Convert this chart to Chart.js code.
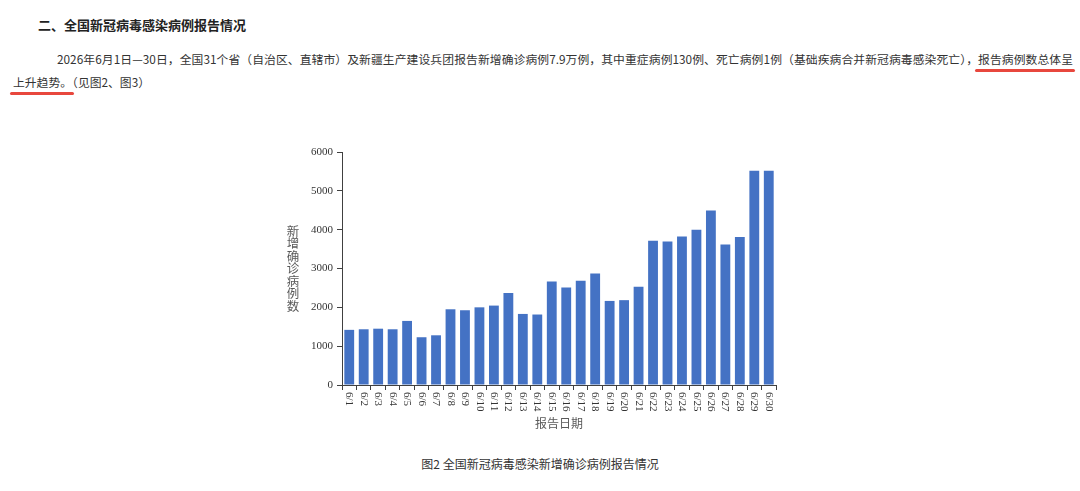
<!DOCTYPE html>
<html>
<head>
<meta charset="utf-8">
<script src="https://cdn.jsdelivr.net/npm/chart.js@4"></script>
<style>
  body { margin: 0; width: 1080px; height: 491px; background: #fff; position: relative; overflow: hidden;
         font-family: "Noto Sans CJK SC", "Noto Sans", sans-serif; color: #333; }
  .head { position: absolute; left: 38px; top: 15px; font-size: 13px; font-weight: bold; color: #222; }
  .line1 { position: absolute; left: 57px; top: 50px; width: 1016px; font-size: 11.8px; white-space: nowrap;
           text-align: justify; text-align-last: justify; }
  .line2 { position: absolute; left: 13px; top: 73px; font-size: 11.8px; white-space: nowrap; }
  .mark { position: relative; }
  .mark::after { content: ""; position: absolute; left: -3px; right: -2px; bottom: -5px; height: 3px;
                 border-radius: 2px; background: #e8473d; }
  #wrap { position: absolute; left: 270px; top: 140px; width: 530px; height: 300px; }
  .caption { position: absolute; left: 0; width: 1080px; top: 455px; text-align: center; font-size: 12px; color: #333; }
</style>
</head>
<body>
<div class="head">二、全国新冠病毒感染病例报告情况</div>
<div class="line1">2026年6月1日—30日，全国31个省（自治区、直辖市）及新疆生产建设兵团报告新增确诊病例7.9万例，其中重症病例130例、死亡病例1例（基础疾病合并新冠病毒感染死亡），<span class="mark">报告病例数总体呈</span></div>
<div class="line2"><span class="mark">上升趋势。</span>（见图2、图3）</div>
<div id="wrap"><canvas id="casesChart"></canvas></div>
<div class="caption">图2 全国新冠病毒感染新增确诊病例报告情况</div>

<script>
const dates = ['6/1', '6/2', '6/3', '6/4', '6/5', '6/6', '6/7', '6/8', '6/9', '6/10',
               '6/11', '6/12', '6/13', '6/14', '6/15', '6/16', '6/17', '6/18', '6/19', '6/20',
               '6/21', '6/22', '6/23', '6/24', '6/25', '6/26', '6/27', '6/28', '6/29', '6/30'];
const newCases = [1420, 1435, 1450, 1435, 1650, 1230, 1280, 1950, 1925, 2000,
                  2045, 2370, 1830, 1815, 2665, 2510, 2685, 2870, 2165, 2185,
                  2530, 3715, 3695, 3825, 4000, 4495, 3620, 3810, 5520, 5520];
const yTitle = '新增确诊病例数';
const xTitle = '报告日期';

// x labels read top-to-bottom, y title is stacked characters
const labelPlugin = {
    id: 'labelPlugin',
    afterDraw(chart) {
        const ctx = chart.ctx;
        const xs = chart.scales.x;
        const area = chart.chartArea;
        ctx.save();
        ctx.fillStyle = '#333';
        ctx.font = '11px "Liberation Serif", serif';
        ctx.textAlign = 'left';
        ctx.textBaseline = 'middle';
        dates.forEach((d, i) => {
            ctx.save();
            ctx.translate(xs.getPixelForTick(i), xs.top + 7);
            ctx.rotate(Math.PI / 2);
            ctx.fillText(d, 0, 0);
            ctx.restore();
        });
        ctx.fillStyle = '#595959';
        ctx.font = '12.5px "Noto Sans CJK SC", sans-serif';
        ctx.textAlign = 'center';
        const step = 12.5;
        const mid = (area.top + area.bottom) / 2;
        const start = mid - step * (yTitle.length - 1) / 2;
        for (let i = 0; i < yTitle.length; i++) {
            ctx.fillText(yTitle[i], 23, start + i * step);
        }
        ctx.restore();
    }
};

function renderChart() {
    const ctx = document.querySelector('#casesChart').getContext('2d');
    new Chart(ctx, {
        type: 'bar',
        data: {
            labels: dates,
            datasets: [{
                label: yTitle,
                data: newCases,
                backgroundColor: '#4472C4',
                barPercentage: 0.68,
                categoryPercentage: 1.0,
            }]
        },
        options: {
            responsive: true,
            maintainAspectRatio: false,
            animation: false,
            layout: { padding: { left: 0, right: 24, top: 12, bottom: 0 } },
            plugins: {
                legend: { display: false },
                tooltip: { enabled: false },
            },
            scales: {
                x: {
                    offset: true,
                    grid: { display: true, drawOnChartArea: false, offset: true, tickLength: 5, color: '#404040' },
                    border: { color: '#404040', width: 1 },
                    ticks: { display: false },
                    title: {
                        display: true,
                        text: xTitle,
                        color: '#595959',
                        font: { family: '"Noto Sans CJK SC", sans-serif', size: 12 },
                        padding: { top: 4, bottom: 9 },
                    },
                    afterFit(scale) { scale.height = 55; }
                },
                y: {
                    min: 0,
                    max: 6000,
                    ticks: {
                        stepSize: 1000,
                        color: '#333',
                        padding: 4,
                        font: { family: '"Liberation Serif", serif', size: 11 },
                        callback: (v) => String(v),
                    },
                    grid: { drawOnChartArea: false, tickLength: 5, color: '#404040' },
                    border: { color: '#404040', width: 1 },
                    afterFit(scale) { scale.width = 72; }
                }
            }
        },
        plugins: [labelPlugin]
    });
}

document.addEventListener('DOMContentLoaded', renderChart);
</script>
</body>
</html>
